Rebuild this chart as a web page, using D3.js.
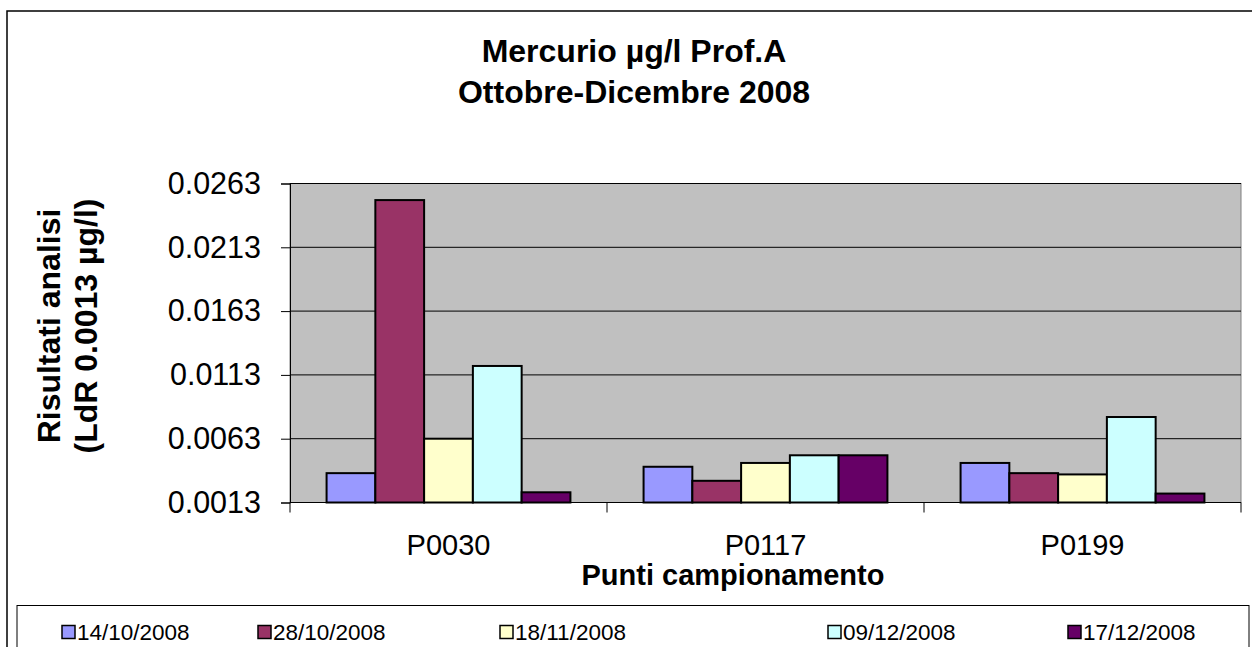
<!DOCTYPE html>
<html>
<head>
<meta charset="utf-8">
<script src="https://cdn.jsdelivr.net/npm/d3@7"></script>
<style>
  body { margin: 0; background: #fff; }
  svg { display: block; font-family: "Liberation Sans", Arial, sans-serif; }
</style>
</head>
<body>
<div id="chart"></div>
<script>
// sampling points and dates
const categories = ["P0030", "P0117", "P0199"];
const dates = ["14/10/2008", "28/10/2008", "18/11/2008", "09/12/2008", "17/12/2008"];

// mercury values (µg/l) per date, one value per sampling point
const s14_10 = [0.0036, 0.0041, 0.0044];
const s28_10 = [0.0250, 0.0030, 0.0036];
const s18_11 = [0.0063, 0.0044, 0.0035];
const s09_12 = [0.0120, 0.0050, 0.0080];
const s17_12 = [0.0021, 0.0050, 0.0020];

const yTicks = [0.0013, 0.0063, 0.0113, 0.0163, 0.0213, 0.0263];
const colors = ["#9999FF", "#993366", "#FFFFCC", "#CCFFFF", "#660066"];

const series = [s14_10, s28_10, s18_11, s09_12, s17_12];

const width = 1252;
const height = 647;
const plot = { left: 290, right: 1241, top: 183.5, bottom: 502.5 };

const svg = d3.select("#chart")
  .append("svg")
  .attr("width", width)
  .attr("height", height);

// outer chart frame (runs off the right / bottom edges)
svg.append("rect")
  .attr("x", 7).attr("y", 11)
  .attr("width", 1270).attr("height", 660)
  .attr("fill", "#fff")
  .attr("stroke", "#000")
  .attr("stroke-width", 1.5);

const x0 = d3.scaleBand()
  .domain(categories)
  .range([plot.left, plot.right]);

const x1 = d3.scaleBand()
  .domain(dates)
  .range([0, x0.bandwidth()])
  .paddingInner(0)
  .paddingOuter(0.75);

const y = d3.scaleLinear()
  .domain([yTicks[0], yTicks[yTicks.length - 1]])
  .range([plot.bottom, plot.top]);

// plot background
svg.append("rect")
  .attr("x", plot.left).attr("y", plot.top)
  .attr("width", plot.right - plot.left)
  .attr("height", plot.bottom - plot.top)
  .attr("fill", "#C0C0C0")
  .attr("stroke", "#808080")
  .attr("stroke-width", 1);

// gridlines
svg.append("g")
  .selectAll("line")
  .data(yTicks.slice(1))
  .join("line")
    .attr("x1", plot.left).attr("x2", plot.right)
    .attr("y1", d => y(d)).attr("y2", d => y(d))
    .attr("stroke", "#000")
    .attr("stroke-width", 1);

// bars
const rows = [];
categories.forEach((c, i) => {
  dates.forEach((d, j) => rows.push({ cat: c, date: d, value: series[j][i], color: colors[j] }));
});

svg.append("g")
  .selectAll("rect")
  .data(rows)
  .join("rect")
    .attr("x", d => x0(d.cat) + x1(d.date))
    .attr("y", d => y(d.value))
    .attr("width", x1.bandwidth())
    .attr("height", d => y(yTicks[0]) - y(d.value))
    .attr("fill", d => d.color)
    .attr("stroke", "#000")
    .attr("stroke-width", 2);

// y axis
svg.append("g")
  .attr("transform", `translate(${plot.left},0)`)
  .call(d3.axisLeft(y).tickValues(yTicks).tickFormat(d3.format(".4f")).tickSizeOuter(0).tickSize(9).tickPadding(20))
  .call(g => g.select(".domain").attr("stroke", "#000"))
  .call(g => g.selectAll("text").attr("font-size", 30.5).attr("fill", "#000").attr("font-family", "Liberation Sans, Arial, sans-serif"));

// x axis
const xAxisG = svg.append("g")
  .attr("transform", `translate(0,${plot.bottom})`);
xAxisG.append("line")
  .attr("x1", plot.left).attr("x2", plot.right)
  .attr("stroke", "#000");
xAxisG.selectAll("line.tick")
  .data(categories.concat(["end"]))
  .join("line")
    .attr("class", "tick")
    .attr("x1", (d, i) => plot.left + i * x0.step())
    .attr("x2", (d, i) => plot.left + i * x0.step())
    .attr("y1", 0).attr("y2", 10)
    .attr("stroke", "#000");
xAxisG.selectAll("text")
  .data(categories)
  .join("text")
    .attr("x", d => x0(d) + x0.bandwidth() / 2)
    .attr("y", 52)
    .attr("text-anchor", "middle")
    .attr("font-size", 29)
    .text(d => d);

// titles
const title = svg.append("text")
  .attr("text-anchor", "middle")
  .attr("font-weight", "bold")
  .attr("font-size", 32);
title.append("tspan").attr("x", 634).attr("y", 62).text("Mercurio µg/l Prof.A");
title.append("tspan").attr("x", 634).attr("y", 103).text("Ottobre-Dicembre 2008");

svg.append("text")
  .attr("x", 733).attr("y", 585)
  .attr("text-anchor", "middle")
  .attr("font-weight", "bold")
  .attr("font-size", 29)
  .text("Punti campionamento");

const yTitle = svg.append("text")
  .attr("transform", "translate(0,326) rotate(-90)")
  .attr("text-anchor", "middle")
  .attr("font-weight", "bold")
  .attr("font-size", 32);
yTitle.append("tspan").attr("x", 0).attr("y", 60).text("Risultati analisi");
yTitle.append("tspan").attr("x", 0).attr("y", 97).text("(LdR 0.0013 µg/l)");

// legend
const legend = svg.append("g");
legend.append("rect")
  .attr("x", 17).attr("y", 605.5)
  .attr("width", 1232).attr("height", 60)
  .attr("fill", "#fff")
  .attr("stroke", "#000")
  .attr("stroke-width", 1);

const legendX = [62, 258, 500, 828, 1068];
const items = legend.selectAll("g.item")
  .data(dates)
  .join("g")
    .attr("class", "item")
    .attr("transform", (d, i) => `translate(${legendX[i]},632)`);
items.append("rect")
  .attr("x", 0).attr("y", -6.5)
  .attr("width", 13).attr("height", 13)
  .attr("fill", (d, i) => colors[i])
  .attr("stroke", "#000")
  .attr("stroke-width", 1.5);
items.append("text")
  .attr("x", 15).attr("y", 8)
  .attr("font-size", 22.5)
  .text(d => d);
</script>
</body>
</html>
